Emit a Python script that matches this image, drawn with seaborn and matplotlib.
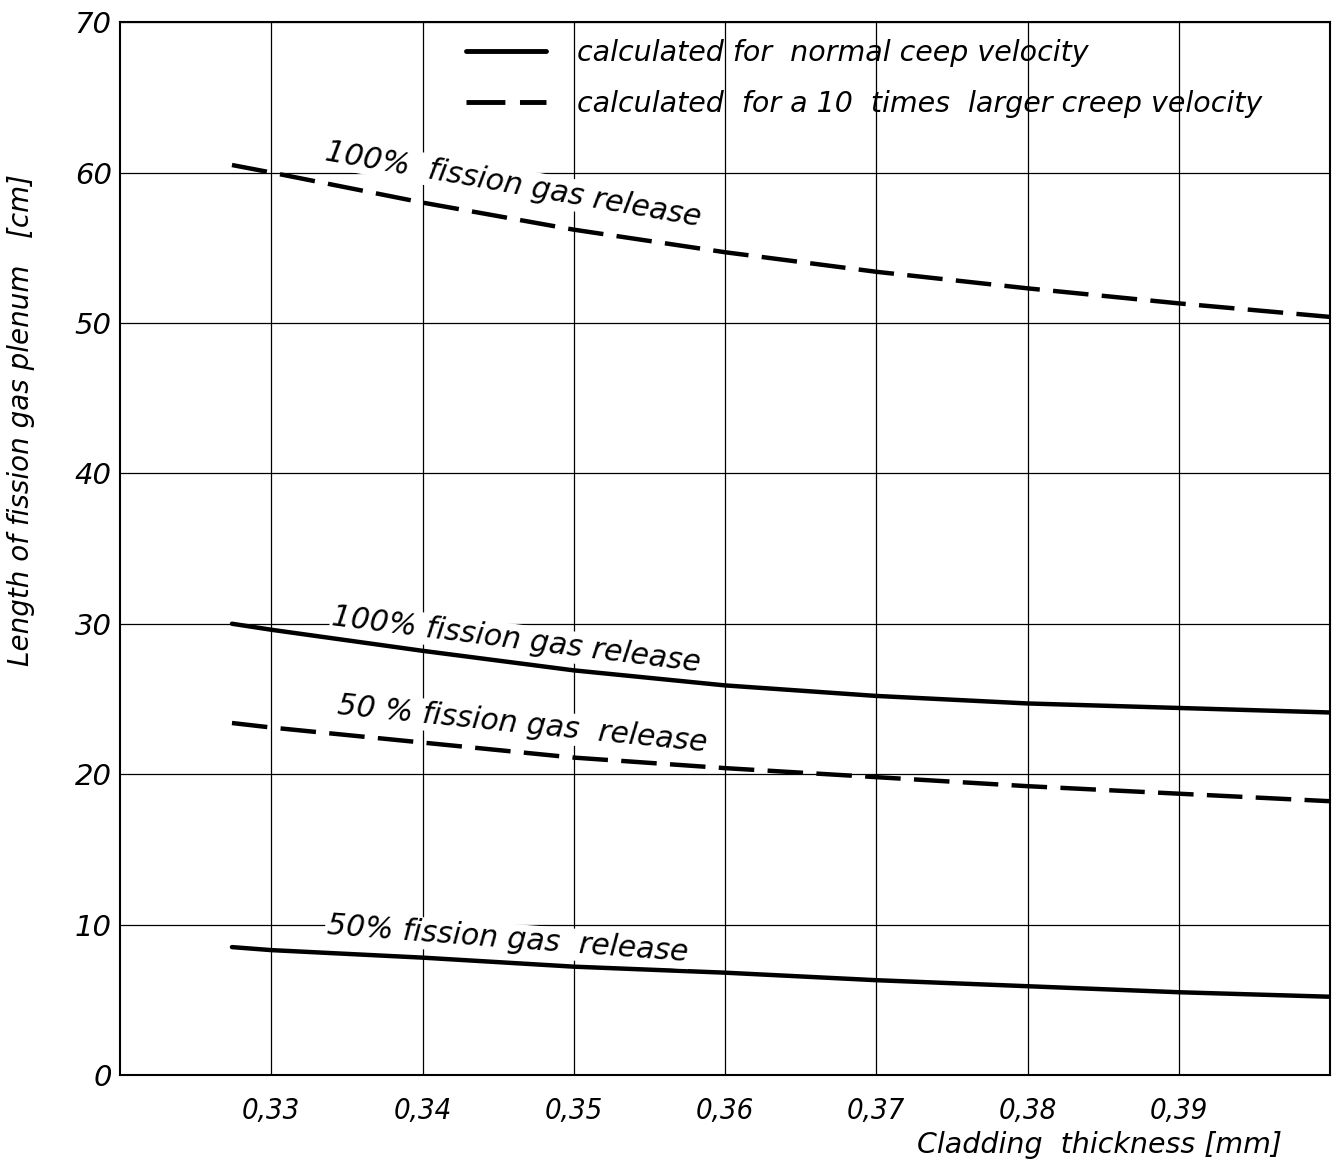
import pandas as pd
import matplotlib.pyplot as plt
import seaborn as sns
import numpy as np

thickness = [0.3274, 0.33, 0.34, 0.35, 0.36, 0.37, 0.38, 0.39, 0.40]
dash_100 = [60.5, 60.0, 58.0, 56.2, 54.7, 53.4, 52.3, 51.3, 50.4]
solid_100 = [30.0, 29.6, 28.2, 26.9, 25.9, 25.2, 24.7, 24.4, 24.1]
dash_50 = [23.4, 23.1, 22.1, 21.1, 20.4, 19.8, 19.2, 18.7, 18.2]
solid_50 = [8.5, 8.3, 7.8, 7.2, 6.8, 6.3, 5.9, 5.5, 5.2]

xticks = [0.33, 0.34, 0.35, 0.36, 0.37, 0.38, 0.39]
xticklabels = ['0,33', '0,34', '0,35', '0,36', '0,37', '0,38', '0,39']
yticks = [0, 10, 20, 30, 40, 50, 60, 70]

labels = ['100%  fission gas release', '100% fission gas release',
          '50 % fission gas  release', '50% fission gas  release']
label_x = [0.3460, 0.3462, 0.3466, 0.3456]
label_y = [59.2, 28.9, 23.3, 9.0]
label_rot = [-10, -7.2, -5.8, -4.3]

sns.set_style('white')
plt.rcParams['font.family'] = ['DejaVu Sans']
plt.rcParams['font.style'] = 'italic'
plt.rcParams['text.color'] = 'black'
plt.rcParams['axes.labelcolor'] = 'black'
plt.rcParams['xtick.color'] = 'black'
plt.rcParams['ytick.color'] = 'black'

fig = plt.figure(figsize=(13.34, 11.64), dpi=100)
ax = fig.add_axes([0.09, 0.0765, 0.907, 0.9045])

dashes = (8, 3)
sns.lineplot(x=thickness, y=solid_100, color='black', lw=3.2, ax=ax,
             label='calculated for  normal ceep velocity')
sns.lineplot(x=thickness, y=dash_100, color='black', lw=3.2, ax=ax,
             label='calculated  for a 10  times  larger creep velocity')
ax.lines[-1].set_dashes(dashes)
sns.lineplot(x=thickness, y=solid_50, color='black', lw=3.2, ax=ax, legend=False)
sns.lineplot(x=thickness, y=dash_50, color='black', lw=3.2, ax=ax, legend=False)
ax.lines[-1].set_dashes(dashes)

for t, x, y, r in zip(labels, label_x, label_y, label_rot):
    ax.text(x, y, t, rotation=r, ha='center', va='center', fontsize=21.5,
            rotation_mode='anchor',
            bbox=dict(facecolor='white', edgecolor='none', pad=1))

ax.set_xlim(0.32, 0.40)
ax.set_ylim(0, 70)
ax.set_xticks(xticks)
ax.set_xticklabels(xticklabels, fontstretch='condensed')
ax.set_yticks(yticks)
ax.tick_params(axis='both', length=0, labelsize=21)
ax.tick_params(axis='x', pad=16)
ax.tick_params(axis='y', pad=6)
ax.grid(True, color='black', lw=0.9)
for s in ax.spines.values():
    s.set_color('black')
    s.set_linewidth(1.5)

ax.set_xlabel('Cladding  thickness [mm]', fontsize=20.5, ha='right')
ax.xaxis.set_label_coords(0.96, -0.053)
ax.set_ylabel('Length of fission gas plenum   [cm]', fontsize=20)
ax.yaxis.set_label_coords(-0.07, 0.622)

leg = ax.legend(loc='upper left', bbox_to_anchor=(0.265, 1.008), frameon=False,
                fontsize=20.5, handlelength=2.8, handletextpad=1.1,
                labelspacing=0.8)
for line in leg.get_lines():
    line.set_linewidth(3.5)

fig.savefig('out.png', dpi=100)
